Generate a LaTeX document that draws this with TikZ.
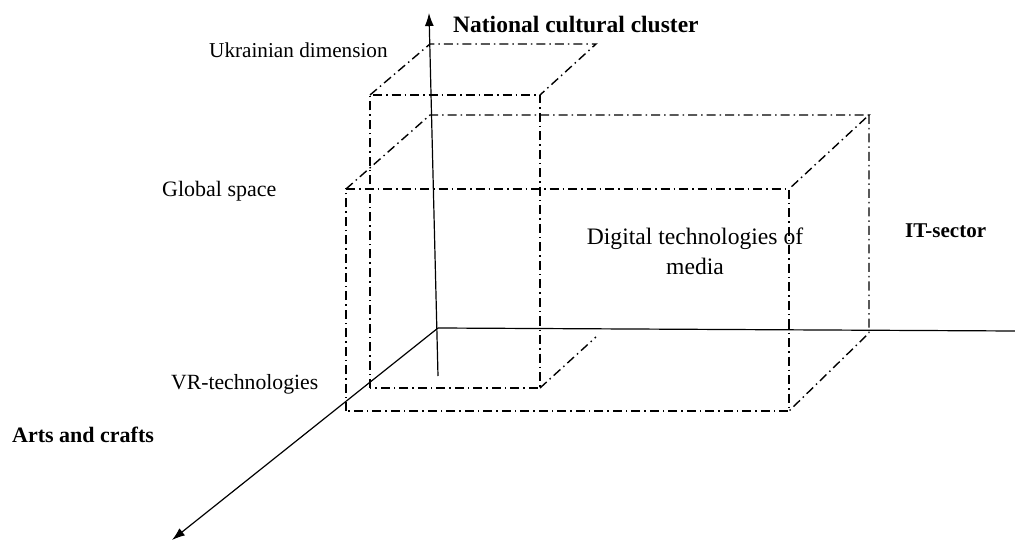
\documentclass[tikz,border=0pt]{standalone}
\usepackage{fontspec}
\setmainfont{Liberation Serif}
\usetikzlibrary{arrows.meta}
\begin{document}
\begin{tikzpicture}[x=1pt,y=-1pt,
  dd/.style={line width=1.4pt, dash pattern=on 9pt off 4pt on 1.5pt off 4pt},
  axisline/.style={line width=1.2pt},
  arr/.style={-{Latex[length=13pt,width=9pt]}},
  lbl/.style={inner sep=0pt, anchor=base west, font=\fontsize{22}{26}\selectfont},
  blbl/.style={inner sep=0pt, anchor=base west, font=\fontsize{22}{26}\selectfont\bfseries}]
\useasboundingbox (0,0) rectangle (1015,540);
% axes
\coordinate (O) at (438,328);
\coordinate (Ztop) at (429,13);
\coordinate (Zbot) at (438,376);
\coordinate (Xend) at (1015,331);
\coordinate (Yend) at (172,540);
\draw[axisline,arr] (Zbot) -- (Ztop);
\draw[axisline] (O) -- (Xend);
\draw[axisline,arr] (O) -- (Yend);
% small box (Ukrainian dimension)
\coordinate (s1) at (370,95);
\coordinate (s2) at (540,95);
\coordinate (s3) at (540,388);
\coordinate (s4) at (370,388);
\coordinate (s5) at (430,44);
\coordinate (s6) at (596,44);
\coordinate (s7) at (596,337);
\draw[dd] (s4) -- (s1) -- (s2) -- (s3) -- cycle;
\draw[dd] (s1) -- (s5) -- (s6) -- (s2);
\draw[dd] (s3) -- (s7);
% big box (Global space)
\coordinate (b1) at (346,189);
\coordinate (b2) at (789,189);
\coordinate (b3) at (789,411);
\coordinate (b4) at (346,411);
\coordinate (b5) at (430,115);
\coordinate (b6) at (869,115);
\coordinate (b7) at (869,333);
\draw[dd] (b4) -- (b1) -- (b2) -- (b3) -- cycle;
\draw[dd] (b1) -- (b5) -- (b6) -- (b2);
\draw[dd] (b6) -- (b7) -- (b3);
% labels
\node[blbl, font=\fontsize{23.5}{28}\selectfont\bfseries] (ncc) at (453,33) {National cultural cluster};
\node[lbl, font=\fontsize{21.2}{25}\selectfont] (ud) at (209,58) {Ukrainian dimension};
\node[lbl] (gs) at (162,197) {Global space};
\node[lbl, font=\fontsize{21.7}{25}\selectfont] (vr) at (171,389) {VR-technologies};
\node[blbl] (ac) at (12,442) {Arts and crafts};
\node[blbl, font=\fontsize{21}{25}\selectfont\bfseries] (it) at (905,238) {IT-sector};
\node[inner sep=0pt, anchor=base, font=\fontsize{23.6}{30}\selectfont, align=center] (dt) at (695,275) {Digital technologies of\\media};
\end{tikzpicture}
\end{document}
